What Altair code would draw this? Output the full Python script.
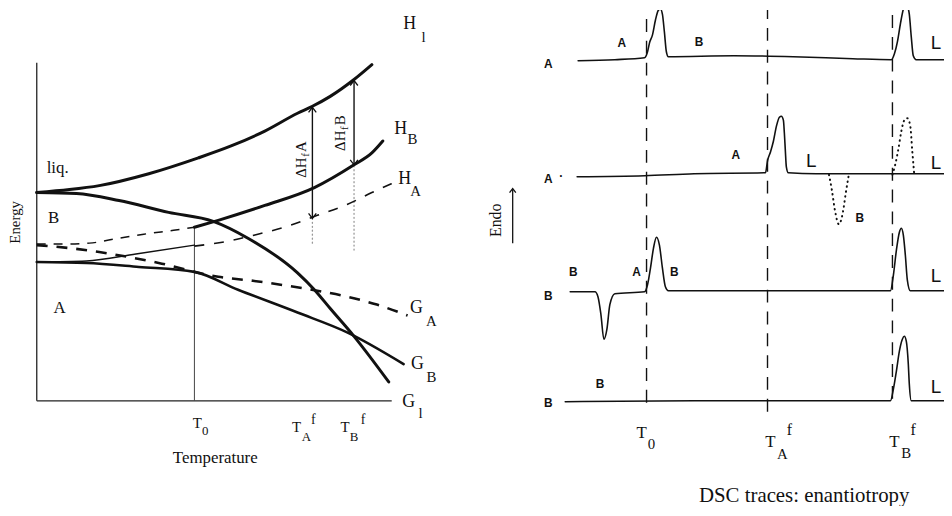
import altair as alt
import pandas as pd

SERIF = "Liberation Serif"
SANS = "Liberation Sans"
INK = "#111111"

# ---------------- left panel: energy vs temperature (schematic units) ----------------
HL_T = [0, 33, 63, 113, 163, 196, 230, 263, 278, 296, 320, 338]
HL_E = [210, 213, 217, 229, 245, 257, 272, 290, 297, 307, 324, 339]
GL_T = [0, 40, 83, 133, 178, 213, 263, 280, 296, 320, 355]
GL_E = [210, 209, 202, 190, 181, 164, 129, 112, 93, 65, 19]
HB_T = [159, 183, 230, 280, 320, 338, 349]
HB_E = [175, 182, 197, 215, 238, 250, 262]
HB_META_T = [0, 25, 53, 83, 108, 138, 159]
HB_META_E = [158, 158, 159, 164, 168, 172, 175]
HA_T = [0, 50, 100, 159]
HA_E = [140, 141, 148, 157]
HA_META_T = [159, 193, 223, 253, 283, 313, 338, 358]
HA_META_E = [156, 161, 168, 176, 187, 198, 210, 219]
GA_T = [0, 33, 63, 123, 183, 218, 253, 283, 313, 343, 374]
GA_E = [157, 154, 150, 139, 125, 121, 116, 111, 105, 97, 86]
GB_T = [0, 50, 103, 159, 203, 263, 313, 370]
GB_E = [140, 139, 135, 130, 112, 89, 69, 37]

T_0, T_AF, T_BF = 159, 278, 320
T_AXIS_END, E_AXIS_END = 358, 341
DH_A = [184, 296]
DH_B = [238, 323]
DOT_A = [159, 184]
DOT_B = [152, 238]

LSYM_TEXT = ["H", "H", "H", "G", "G", "G"]
LSYM_T = [376, 367, 371, 383, 384, 375]
LSYM_E = [380, 274, 224, 94, 37, -1]
LSUB_TEXT = ["l", "B", "A", "A", "B", "l"]
LSUB_T = [390, 379, 382, 398, 398, 387]
LSUB_E = [367, 264, 212, 80, 24, -12]

LTICK_T = [162, 262, 311]
LTICK_E = [-22, -26, -26]
LTICK_SUB = ["0", "A", "B"]
LTICK_SUB_T = [170, 272, 320]
LTICK_SUB_E = [-31, -37, -37]
LTICK_SUP_T = [279, 329]
LTICK_SUP_E = [-19, -19]

# ---------------- right panel: DSC traces (schematic units) ----------------
TR1_X = [13, 50, 80, 83, 85, 88, 91, 94, 96, 98, 100, 102, 104, 170, 230, 290, 329,
         332, 335, 338, 341, 343, 345, 347, 349, 351, 354, 382]
TR1_Y = [343, 344, 346, 352, 361, 369, 384, 394, 395, 390, 372, 352, 347, 348, 347, 345, 344,
         350, 362, 380, 395, 400, 398, 390, 367, 348, 344, 344]
TR2_X = [12, 80, 130, 202, 204, 207, 210, 213, 216, 218, 220, 221, 222, 223, 225, 253, 382]
TR2_Y = [226, 227, 229, 230, 242, 251, 262, 277, 286, 287, 283, 270, 252, 236, 230, 229, 229]
TR2_DIP_X = [266, 269, 272, 276, 280, 283, 286]
TR2_DIP_Y = [228, 212, 192, 178, 190, 210, 228]
TR2_PEAK_X = [330, 333, 336, 339, 342, 345, 348, 350, 352]
TR2_PEAK_Y = [228, 239, 254, 272, 283, 285, 277, 252, 228]
TR3_X = [5, 30, 33, 36, 39, 42, 45, 50, 80, 83, 86, 89, 92, 95, 98, 101, 104,
         328, 331, 334, 337, 339, 341, 343, 345, 348, 382]
TR3_Y = [110, 110, 105, 87, 62, 72, 97, 108, 110, 117, 134, 154, 165, 157, 134, 115, 111,
         111, 127, 152, 170, 174, 167, 147, 122, 111, 111]
TR4_X = [0, 130, 328, 331, 334, 337, 340, 342, 344, 346, 347, 349, 382]
TR4_Y = [-1, 0, 0, 12, 30, 50, 62, 65, 60, 37, 17, 0, 0]

DSC_MARKS = [82, 204, 330]
DSC_MARK_BOTTOM = [-2, -11, 2]
DSC_MARK_TOP = 400

RTICK_T = [77, 207, 332]
RTICK_Y = [-33, -42, -42]
RTICK_SUB = ["0", "A", "B"]
RTICK_SUB_T = [87, 219, 344]
RTICK_SUB_Y = [-44, -54, -53]
RTICK_SUP_T = [226, 351]
RTICK_SUP_Y = [-30, -30]

ROW_TEXT = ["A", "A", "·", "B", "B"]
ROW_X = [-17, -17, -4, -17, -17]
ROW_Y = [340, 224, 227, 106, -2]
PHASE_TEXT = ["A", "B", "A", "B", "B", "A", "B", "B"]
PHASE_X = [57, 135, 172, 297, 8, 72, 110, 35]
PHASE_Y = [361, 362, 248, 184, 130, 130, 130, 17]
L_X = [374, 248, 374, 374, 374]
L_Y = [361, 242, 240, 126, 14]

LX = alt.Scale(domain=[-29, 433], nice=False, zero=False)
RX = alt.Scale(domain=[-100, 382], nice=False, zero=False)
YS = alt.Scale(domain=[-106, 394], nice=False, zero=False)


def curve(xs, ys, xscale, width, dash=None, cap="round", color=INK):
    df = pd.DataFrame({"x": xs, "y": ys, "i": list(range(len(xs)))})
    props = dict(color=color, strokeWidth=width, interpolate="monotone", clip=True,
                 strokeCap=cap, strokeJoin="round")
    if dash is not None:
        props["strokeDash"] = dash
    return alt.Chart(df).mark_line(**props).encode(
        x=alt.X("x:Q", scale=xscale, axis=None),
        y=alt.Y("y:Q", scale=YS, axis=None),
        order=alt.Order("i:Q"),
    )


def rules(x, x2, y, y2, xscale, width, dash=None, color=INK, cap="butt"):
    df = pd.DataFrame({"x": x, "x2": x2, "y": y, "y2": y2})
    props = dict(color=color, strokeWidth=width, clip=True, strokeCap=cap)
    if dash is not None:
        props["strokeDash"] = dash
    return alt.Chart(df).mark_rule(**props).encode(
        x=alt.X("x:Q", scale=xscale, axis=None), x2="x2:Q",
        y=alt.Y("y:Q", scale=YS, axis=None), y2="y2:Q",
    )


def heads(xs, ys, xscale, up=True, size=60):
    path = "M-1,1.3L0,0L1,1.3" if up else "M-1,-1.3L0,0L1,-1.3"
    df = pd.DataFrame({"x": xs, "y": ys})
    return alt.Chart(df).mark_point(shape=path, filled=False, size=size, strokeWidth=1.3,
                                    color=INK, opacity=1, clip=True).encode(
        x=alt.X("x:Q", scale=xscale, axis=None),
        y=alt.Y("y:Q", scale=YS, axis=None),
    )


def texts(labels, xs, ys, xscale, size, font=SERIF, weight="normal", align="center",
          angle=0, baseline="middle"):
    df = pd.DataFrame({"label": labels, "x": xs, "y": ys})
    props = dict(fontSize=size, font=font, fontWeight=weight, align=align, baseline=baseline,
                 color=INK, clip=True)
    if angle:
        props["angle"] = angle
    return alt.Chart(df).mark_text(**props).encode(
        x=alt.X("x:Q", scale=xscale, axis=None),
        y=alt.Y("y:Q", scale=YS, axis=None),
        text="label:N",
    )


left_layers = [
    rules([0, 0], [0, T_AXIS_END], [0, 0], [E_AXIS_END, 0], LX, 1.3, color="#222222"),
    rules([T_0], [T_0], [0], [HB_E[0]], LX, 1.0, color="#444444"),
    rules([T_AF, T_BF], [T_AF, T_BF], [DOT_A[0], DOT_B[0]], [DOT_A[1], DOT_B[1]], LX, 1.3,
          dash=[1, 3], color="#999999", cap="round"),
    rules([T_AF, T_BF], [T_AF, T_BF], [DH_A[0], DH_B[0]], [DH_A[1], DH_B[1]], LX, 1.4),
    heads([T_AF, T_BF], [DH_A[1], DH_B[1]], LX, up=True),
    heads([T_AF, T_BF], [DH_A[0], DH_B[0]], LX, up=False),
    curve(HB_META_T, HB_META_E, LX, 1.5, dash=[9, 8], cap="butt"),
    curve(HA_T, HA_E, LX, 1.5),
    curve(HA_META_T, HA_META_E, LX, 1.6, dash=[10, 10], cap="butt"),
    curve(GA_T, GA_E, LX, 2.6, dash=[11, 9], cap="butt"),
    curve(GB_T, GB_E, LX, 2.6),
    curve(HB_T, HB_E, LX, 3.0),
    curve(GL_T, GL_E, LX, 3.0),
    curve(HL_T, HL_E, LX, 3.0),
    texts(LSYM_TEXT, LSYM_T, LSYM_E, LX, 18),
    texts(LSUB_TEXT, LSUB_T, LSUB_E, LX, 15),
    texts(["T", "T", "T"], LTICK_T, LTICK_E, LX, 15),
    texts(LTICK_SUB, LTICK_SUB_T, LTICK_SUB_E, LX, 13),
    texts(["f", "f"], LTICK_SUP_T, LTICK_SUP_E, LX, 14),
    texts(["liq."], [10], [235], LX, 17, align="left"),
    texts(["B", "A"], [17, 23], [184, 94], LX, 17),
    texts(["Temperature"], [180], [-58], LX, 17),
    texts(["Energy"], [-22], [180], LX, 15, angle=270),
    texts(["ΔH", "ΔH"], [267, 306], [225, 252], LX, 15, align="left", angle=270),
    texts(["f", "f"], [272, 311], [248, 275], LX, 11, angle=270),
    texts(["A", "B"], [267, 306], [251, 278], LX, 15, align="left", angle=270),
]

right_layers = [
    rules(DSC_MARKS, DSC_MARKS, DSC_MARK_BOTTOM, [DSC_MARK_TOP] * 3, RX, 1.4, dash=[13, 9]),
    curve(TR1_X, TR1_Y, RX, 1.6),
    curve(TR2_X, TR2_Y, RX, 1.6),
    curve(TR3_X, TR3_Y, RX, 1.6),
    curve(TR4_X, TR4_Y, RX, 1.6),
    curve(TR2_DIP_X, TR2_DIP_Y, RX, 2.0, dash=[0.5, 4.5]),
    curve(TR2_PEAK_X, TR2_PEAK_Y, RX, 2.0, dash=[0.5, 4.5]),
    rules([-53], [-53], [159], [213], RX, 1.3),
    heads([-53], [214], RX, up=True, size=40),
    texts(["Endo"], [-70], [182], RX, 16, angle=270),
    texts(["T", "T", "T"], RTICK_T, RTICK_Y, RX, 17),
    texts(RTICK_SUB, RTICK_SUB_T, RTICK_SUB_Y, RX, 15),
    texts(["f", "f"], RTICK_SUP_T, RTICK_SUP_Y, RX, 16),
    texts(ROW_TEXT, ROW_X, ROW_Y, RX, 12, font=SANS, weight="bold"),
    texts(PHASE_TEXT, PHASE_X, PHASE_Y, RX, 12, font=SANS, weight="bold"),
    texts(["L"] * len(L_X), L_X, L_Y, RX, 19, font=SANS),
    texts(["DSC traces: enantiotropy"], [241], [-102], RX, 21, baseline="alphabetic"),
]

left = alt.layer(*left_layers).properties(width=462, height=500)
right = alt.layer(*right_layers).properties(width=482, height=500)

chart = alt.hconcat(left, right, spacing=0, bounds="flush", padding=0).configure_view(
    stroke=None
).properties(background="white")

chart.save("out.html", embed_options={"renderer": "svg", "actions": False})
